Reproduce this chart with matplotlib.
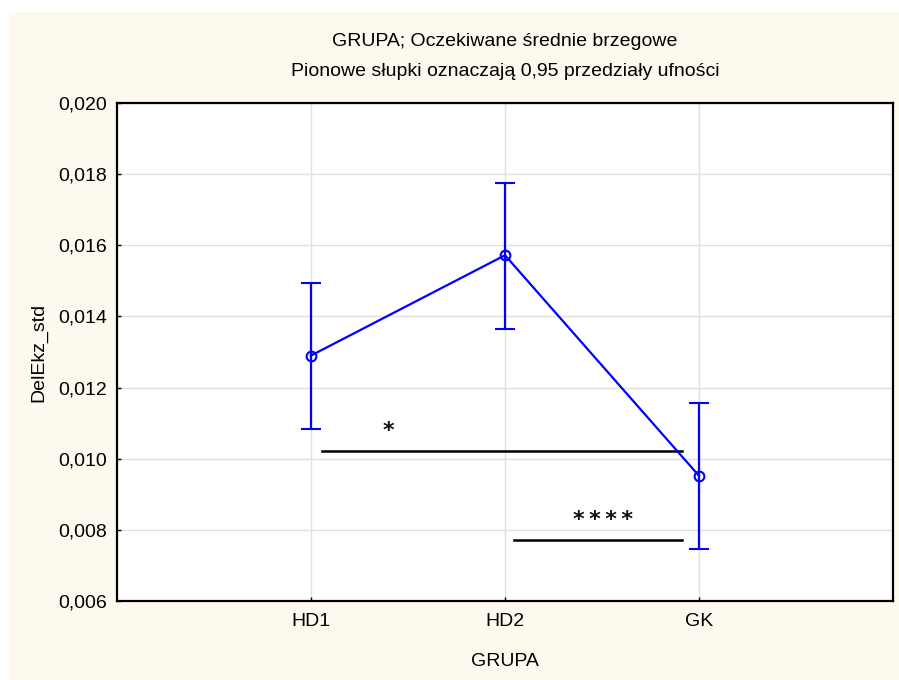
import matplotlib
matplotlib.use("Agg")
import matplotlib.pyplot as plt
from matplotlib.patches import Rectangle
from matplotlib.ticker import FuncFormatter

plt.rcParams['font.family'] = ['Liberation Sans', 'DejaVu Sans']

# Group means with 0.95 confidence limits
groups = ["HD1", "HD2", "GK"]
means = [0.01290, 0.01572, 0.00952]
ci_low = [0.01083, 0.01365, 0.00745]
ci_high = [0.01495, 0.01775, 0.01157]

# Significance brackets: (x start, x end, y, label, label x, label y)
sig_x0 = [1.057, 2.046]
sig_x1 = [2.912, 2.912]
sig_y = [0.01021, 0.00771]
sig_labels = ["*", "*\u2009*\u2009*\u2009*"]
sig_label_x = [1.40, 2.505]
sig_label_y = [0.01078, 0.00828]

y_ticks = [0.006, 0.008, 0.010, 0.012, 0.014, 0.016, 0.018, 0.020]

bg = '#fef9ee'
fs = 14
fig = plt.figure(figsize=(8.99, 6.80), dpi=100)
fig.patch.set_facecolor('white')
fig.patches.append(Rectangle((9 / 899, 0), 1 - 9 / 899, 1 - 12 / 680,
                             transform=fig.transFigure, facecolor=bg,
                             edgecolor='none', zorder=-10))

ax = fig.add_axes([117 / 899, 1 - 601 / 680, (893 - 117) / 899, (601 - 103) / 680])
ax.set_facecolor('white')

x = list(range(1, len(groups) + 1))
yerr = [[m - lo for m, lo in zip(means, ci_low)],
        [hi - m for m, hi in zip(means, ci_high)]]
ax.errorbar(x, means, yerr=yerr, color='#0000ff', lw=1.6, elinewidth=1.6,
            capsize=7, capthick=1.6, marker='o', markersize=7,
            markerfacecolor='none', markeredgecolor='#0000ff',
            markeredgewidth=1.5, zorder=3)

for x0, x1, yy in zip(sig_x0, sig_x1, sig_y):
    ax.plot([x0, x1], [yy, yy], color='black', lw=1.8, zorder=2)
for lbl, lx, ly in zip(sig_labels, sig_label_x, sig_label_y):
    ax.text(lx, ly, lbl, ha='center', va='center', fontsize=16,
            fontweight='bold', color='#111111', family='DejaVu Sans')

ax.set_xlim(0, 4)
ax.set_ylim(0.006, 0.020)
ax.set_xticks(x)
ax.set_xticklabels(groups)
ax.set_yticks(y_ticks)
ax.yaxis.set_major_formatter(FuncFormatter(lambda v, p: f"{v:.3f}".replace('.', ',')))

ax.grid(True, color='#e0e0e0', lw=1, zorder=0)
ax.set_axisbelow(True)
for s in ax.spines.values():
    s.set_color('black')
    s.set_linewidth(1.6)
ax.tick_params(direction='in', length=3, width=1, labelsize=fs, pad=7,
               colors='black')
ax.tick_params(axis='x', pad=9)

ax.set_xlabel("GRUPA", fontsize=fs, labelpad=16)
ax.set_ylabel("DelEkz_std", fontsize=fs, labelpad=8)

fig.text((117 + 893) / 2 / 899, 1 - 42 / 680,
         "GRUPA; Oczekiwane średnie brzegowe",
         ha='center', va='center', fontsize=fs)
fig.text((117 + 893) / 2 / 899, 1 - 72 / 680,
         "Pionowe słupki oznaczają 0,95 przedziały ufności",
         ha='center', va='center', fontsize=fs)

fig.savefig("out.png", dpi=100, facecolor=fig.get_facecolor())
